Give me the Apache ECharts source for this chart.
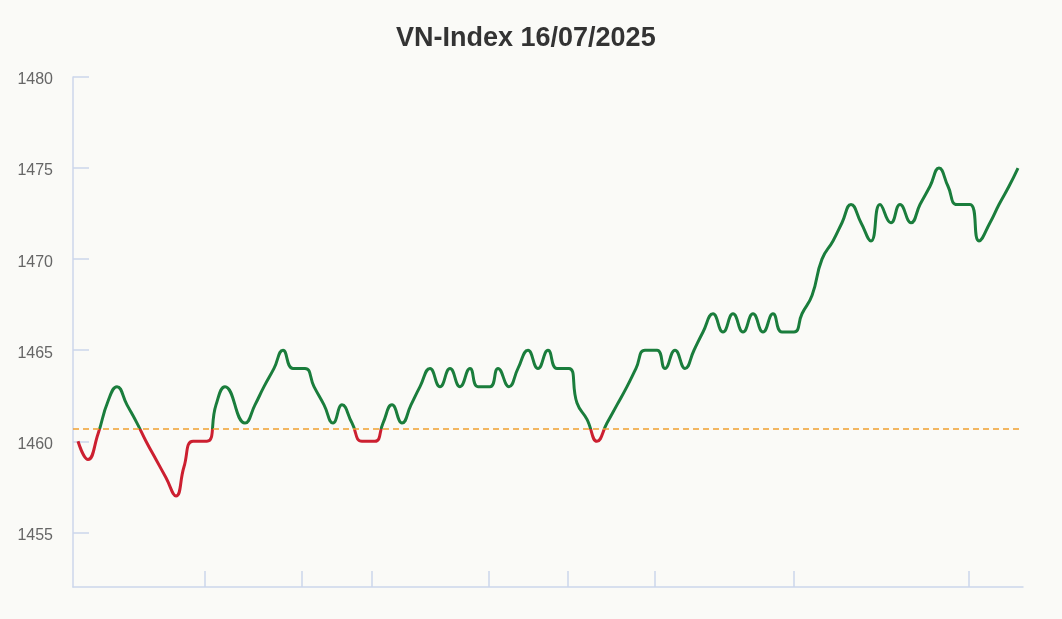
<!DOCTYPE html>
<html>
<head>
<meta charset="utf-8">
<script src="https://cdn.jsdelivr.net/npm/echarts@6/dist/echarts.min.js"></script>
<style>
html,body{margin:0;padding:0;background:#fafaf7;}
#chart{width:1062px;height:619px;}
</style>
</head>
<body>
<div id="chart"></div>
<script>
// Time steps (session progress units) and VN-Index values
const times = [
  0.0, 1.0, 2.0, 3.0, 3.9, 4.9, 5.9, 6.8, 7.8, 8.8, 9.8, 10.6, 11.5, 12.9, 13.8, 14.7,
  16.7, 17.7, 18.6, 19.6, 20.5, 21.5, 22.7, 23.6, 24.6, 25.5, 26.4, 27.4, 28.4, 29.7,
  30.5, 31.4, 32.4, 33.3, 34.2, 35.2, 36.2, 37.2, 38.2, 39.2, 40.0, 41.2, 42.0, 43.1,
  44.0, 45.0, 46.0, 47.0, 47.9, 49.1, 49.9, 50.9, 51.9, 52.9, 53.9, 54.9, 55.8, 56.7,
  57.9, 58.7, 59.7, 60.7, 61.6, 62.5, 63.5, 64.5, 65.5, 66.5, 67.5, 68.5, 69.5, 70.4,
  71.6, 72.4, 73.4, 74.4, 75.5, 76.4, 77.3, 78.3, 79.3, 80.2, 81.3, 82.2, 83.3, 84.2,
  85.2, 86.1, 87.0, 87.9, 89.2, 90.1, 91.2, 92.1, 93.1, 94.0
];
const values = [
  1460, 1459, 1460.4, 1462.2, 1463, 1462, 1461, 1460, 1459, 1458, 1457, 1458.6, 1460, 1460, 1462, 1463,
  1461, 1462, 1463, 1464, 1465, 1464, 1464, 1463, 1462, 1461, 1462, 1461, 1460, 1460,
  1461, 1462, 1461, 1462, 1463, 1464, 1463, 1464, 1463, 1464, 1463, 1463, 1464, 1463,
  1464, 1465, 1464, 1465, 1464, 1464, 1462.1, 1461.2, 1460, 1461, 1462, 1463, 1464, 1465,
  1465, 1464, 1465, 1464, 1465, 1466, 1467, 1466, 1467, 1466, 1467, 1466, 1467, 1466,
  1466, 1467, 1468, 1470, 1471, 1472, 1473, 1472, 1471, 1473, 1472, 1473, 1472, 1473,
  1474, 1475, 1474, 1473, 1473, 1471, 1472, 1473, 1474, 1475
];
const referencePrice = 1460.69;
const xTickPositions = [12.63, 22.37, 29.37, 41.03, 48.97, 57.63, 71.53, 89.03];
const yTickLabels = [1455, 1460, 1465, 1470, 1475, 1480];
const titleText = 'VN-Index 16/07/2025';

const seriesData = times.map((t, i) => [t, values[i]]);
const axisColor = '#ccd6eb';
const upColor = '#1a7d3c';
const downColor = '#cc1f30';

const chart = echarts.init(document.getElementById('chart'));
chart.setOption({
  backgroundColor: '#fafaf7',
  animation: false,
  title: {
    text: titleText,
    left: 391,
    top: 20,
    textStyle: { fontFamily: 'Liberation Sans, Arial, sans-serif', fontSize: 27, fontWeight: 'bold', color: '#333333' }
  },
  grid: { left: 73, right: 39, top: 77, bottom: 32, containLabel: false },
  xAxis: {
    type: 'value',
    min: -0.5,
    max: 94.5,
    splitLine: { show: false },
    axisLine: { show: true, onZero: false, lineStyle: { color: axisColor, width: 1.5 } },
    axisTick: { show: true, inside: true, length: 16, customValues: xTickPositions, lineStyle: { color: axisColor, width: 1.5 } },
    axisLabel: { show: false }
  },
  yAxis: {
    type: 'value',
    min: 1452,
    max: 1480,
    splitLine: { show: false },
    axisLine: { show: true, onZero: false, lineStyle: { color: axisColor, width: 1.5 } },
    axisTick: { show: true, inside: true, length: 16, customValues: yTickLabels, lineStyle: { color: axisColor, width: 1.5 } },
    axisLabel: {
      show: true, customValues: yTickLabels, margin: 20, color: '#666666', fontSize: 16,
      fontFamily: 'Liberation Sans, Arial, sans-serif',
      formatter: function (v) { return '{t|' + String(v) + '}'; },
      rich: {
        t: { color: '#666666', fontSize: 16, fontFamily: 'Liberation Sans, Arial, sans-serif', padding: [6, 0, 0, 0] }
      }
    }
  },
  visualMap: {
    show: false,
    type: 'piecewise',
    dimension: 1,
    seriesIndex: 0,
    pieces: [
      { gte: 1400, lt: referencePrice, color: downColor },
      { gte: referencePrice, lte: 1500, color: upColor }
    ],
    outOfRange: { color: upColor }
  },
  series: [{
    type: 'line',
    data: seriesData,
    smooth: 0.5,
    showSymbol: false,
    lineStyle: { width: 3 },
    markLine: {
      silent: true,
      symbol: 'none',
      label: { show: false },
      lineStyle: { color: '#f0a030', width: 1.5, type: [6, 4] },
      data: [{ yAxis: referencePrice }]
    }
  }]
});
</script>
</body>
</html>
